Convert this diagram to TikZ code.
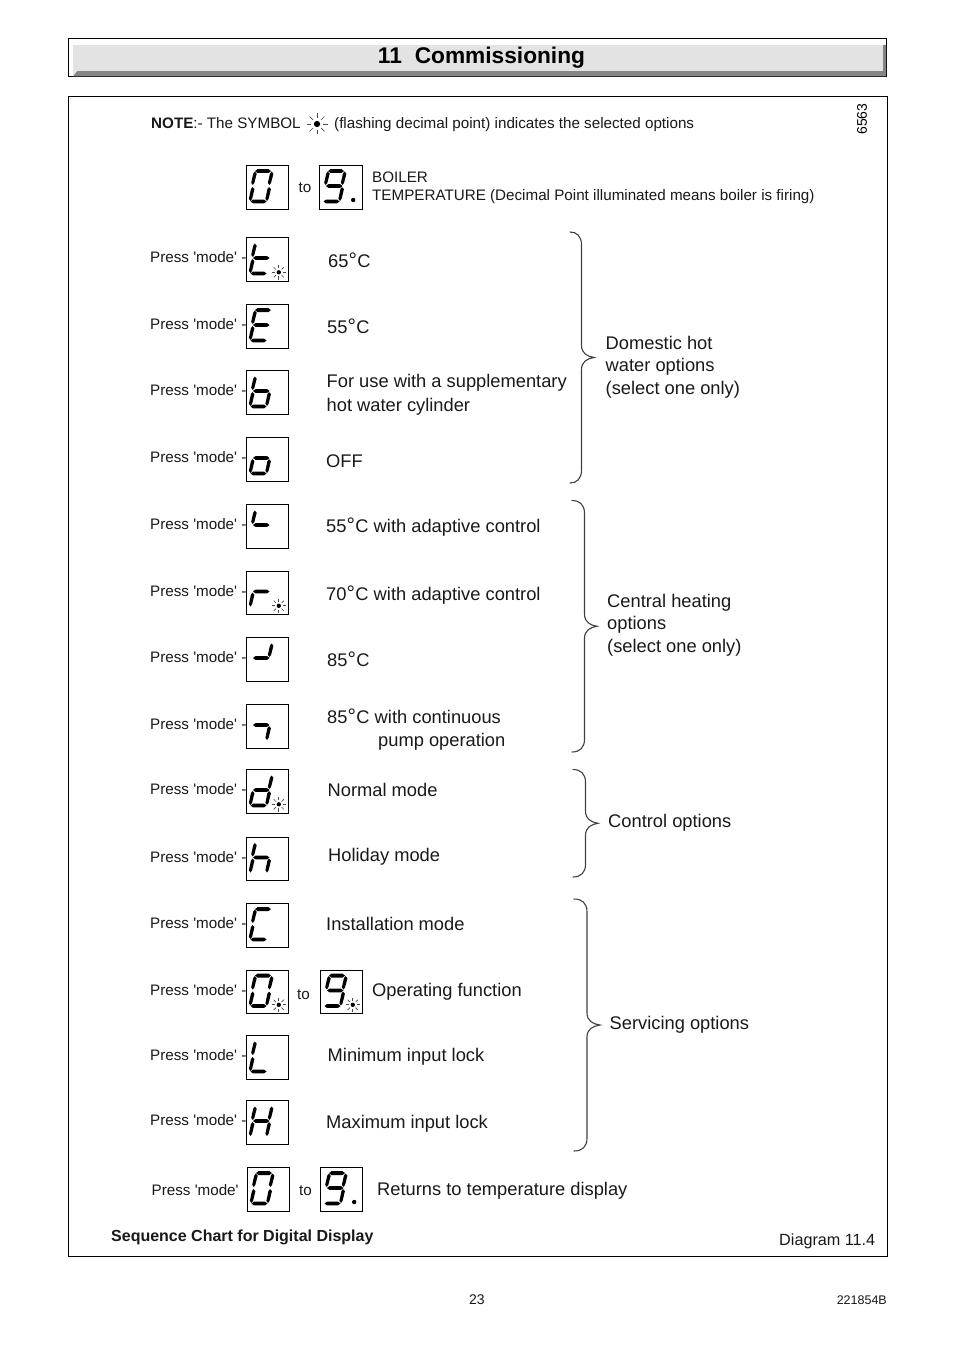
\documentclass[tikz,border=0pt]{standalone}
\usepackage{fontspec}
\setmainfont{Liberation Sans}[Ligatures=TeXOff]
\newcommand\fsz[1]{\fontsize{#1}{#1}\selectfont}
\newcommand\dgr{{\fsz{21}°}\kern0.5pt}
\tikzset{
  frame/.style={draw=black,line width=1pt,fill=white},
  lcd/.style={draw=black,line width=1pt,anchor=north west,inner sep=0pt,outer sep=0pt,minimum width=41.5pt,minimum height=43.5pt},
  sm/.style={anchor=base west,inner sep=0pt,text=black!90,font=\fsz{15.2}},
  big/.style={anchor=base west,inner sep=0pt,text=black!90,font=\fsz{18.3},align=left},
  bracepath/.style={draw=black!75,line width=1.1pt,line cap=round},
  ray/.style={line width=0.7pt,black!70},
}
% horizontal and slanted display bars
\newcommand\hseg[3]{\fill (#1,#3)--(#1+2.5,#3-1.9)--(#2-2.5,#3-1.9)--(#2,#3)--(#2-2.5,#3+1.9)--(#1+2.5,#3+1.9)--cycle;}
\newcommand\vseg[4]{\fill (#1,#2)--(#1+1.9,#2+2.2)--(#3+1.6,#4-2.2)--(#3,#4)--(#3-1.6,#4-2.2)--(#1-1.6,#2+2.2)--cycle;}
\newcommand\sA{\hseg{8.5}{24.5}{5.6}}
\newcommand\sB{\vseg{25}{6}{23}{19.5}}
\newcommand\sC{\vseg{22.5}{21.5}{20.5}{35.5}}
\newcommand\sD{\hseg{4}{20}{36}}
\newcommand\sE{\vseg{6}{21.5}{4}{35.5}}
\newcommand\sF{\vseg{8.3}{6}{6.3}{19.5}}
\newcommand\sG{\hseg{6.5}{23}{20.5}}
\newcommand\lcdglyph[3]{\begin{scope}[shift={(#1,#2)}]#3\end{scope}}
\newcommand\decdot[2]{\fill (#1+33.7,#2+34.5) circle (2.2);}
\newcommand\sunmark[3]{\begin{scope}[shift={(#1,#2)}]
  \fill (0,0) circle (0.3*#3);
  \foreach \a in {0,45,...,315} \draw[ray] (\a:0.55*#3) -- (\a:#3);
\end{scope}}
\newcommand\lcdsun[2]{\sunmark{#1+32.3}{#2+34.8}{7.2}}
\begin{document}
\begin{tikzpicture}[x=1pt,y=-1pt]
\useasboundingbox (0,0) rectangle (954,1351);
\fill[white] (0,0) rectangle (954,1351);
% title
\draw[frame] (68.5,38.5) rectangle (886.5,77);
\fill[black!48] (73,76.3)--(77,71)--(883,71)--(883,45)--(886,45)--(886,76.3)--cycle;
\fill[black!11] (73,45) rectangle (883,71);
\fill[black!11] (73,71)--(77,71)--(73,76)--cycle;
\node[anchor=base,inner sep=0pt,font=\bfseries\fsz{22.7}] (title) at (481.5,63.5) {11\kern6.5pt\ Commissioning};
% frame
\draw[frame] (68.5,97) rectangle (887.5,1256.5);
\node[sm] (note) at (151,128.7) {\textbf{NOTE}:- The SYMBOL};
\sunmark{317}{124}{10.5}
\node[sm] (notetwo) at (334,128.7) {(flashing decimal point) indicates the selected options};
\node[anchor=center,inner sep=0pt,rotate=90,font=\fsz{14}] (code) at (862,119) {6563};
% first row
\node[lcd] (h0) at (246.5,165.5) {};
\lcdglyph{246.5}{165.5}{\sA\sB\sC\sD\sE\sF}
\node[sm] (hto) at (298.5,192.5) {to};
\node[lcd,minimum width=42.5pt] (h9) at (319.5,165.5) {};
\lcdglyph{319.5}{165.5}{\sA\sB\sC\sD\sF\sG}
\decdot{319.5}{165.5}
\node[sm] (boil) at (372,182.7) {BOILER};
\node[sm] (temp) at (372,200.7) {TEMPERATURE (Decimal Point illuminated means boiler is firing)};
% rows
\newcommand\pressrow[5]{%
  \node[sm] (p#1) at (150,#3+25.2) {Press 'mode' -};
  \node[lcd] (#1) at (246.5,#3) {};
  \lcdglyph{246.5}{#3}{#4}
  \ifx\relax#5\relax\else\lcdsun{246.5}{#3}\fi
  \node[big] (t#1) at #2;}
\pressrow{a}{(328,267) {65\dgr C}}{237.5}{\sF\sE\sG\sD}{x}
\pressrow{b}{(327,333) {55\dgr C}}{304.5}{\sA\sF\sE\sG\sD}{}
\pressrow{c}{(326.5,411) {For use with a supplementary\\[5pt]hot water cylinder}}{370.5}{\sF\sE\sG\sD\sC}{}
\pressrow{d}{(326,467) {OFF}}{437.5}{\sG\sE\sD\sC}{}
\pressrow{e}{(326,532) {55\dgr C with adaptive control}}{504.5}{\sF\sG}{}
\pressrow{f}{(326,600) {70\dgr C with adaptive control}}{571}{\sG\sE}{x}
\pressrow{g}{(327,666) {85\dgr C}}{637.5}{\sB\sG}{}
\pressrow{i}{(327,746.5) {85\dgr C with continuous\\[4.3pt]\hspace*{51pt}pump operation}}{704.5}{\sG\sC}{}
\pressrow{j}{(327.5,796) {Normal mode}}{769.5}{\sB\sC\sD\sE\sG}{x}
\pressrow{k}{(328,861) {Holiday mode}}{837}{\sF\sE\sG\sC}{}
\pressrow{m}{(326,930) {Installation mode}}{903.5}{\sA\sF\sE\sD}{}
\pressrow{n}{(372,996) {Operating function}}{970}{\sA\sB\sC\sD\sE\sF}{x}
\node[sm] (nto) at (297,999.5) {to};
\node[lcd,minimum width=41.5pt] (n9) at (320.5,970) {};
\lcdglyph{320.5}{970}{\sA\sB\sC\sD\sF\sG}
\lcdsun{320.5}{970}
\pressrow{q}{(327.5,1061) {Minimum input lock}}{1035.5}{\sF\sE\sD}{}
\pressrow{r}{(326,1128) {Maximum input lock}}{1100.5}{\sF\sE\sB\sC\sG}{}
% last row
\node[sm] (plast) at (151.5,1195.5) {Press 'mode'};
\node[lcd] (l0) at (247.5,1167.5) {};
\lcdglyph{247.5}{1167.5}{\sA\sB\sC\sD\sE\sF}
\node[sm] (lto) at (299,1195.5) {to};
\node[lcd] (l9) at (320.5,1167.5) {};
\lcdglyph{320.5}{1167.5}{\sA\sB\sC\sD\sF\sG}
\decdot{320.5}{1167.5}
\node[big] (tl) at (377,1195) {Returns to temperature display};
% braces
\newcommand\bracemark[5]{% x-end, x-bar, x-tip, y-top, y-bottom
  \pgfmathsetmacro\ym{(#4+#5)/2}
  \draw[bracepath] (#1,#4) .. controls (#2-5,#4) and (#2,#4+4) .. (#2,#4+13)
    -- (#2,\ym-12) .. controls (#2,\ym-4) and (#2+6,\ym-1) .. (#3,\ym)
    .. controls (#2+6,\ym+1) and (#2,\ym+4) .. (#2,\ym+12)
    -- (#2,#5-13) .. controls (#2,#5-4) and (#2-5,#5) .. (#1,#5);}
\bracemark{570}{581.5}{594}{232}{483}
\bracemark{572}{584.5}{597}{500.5}{752}
\bracemark{573}{585.5}{598}{769.5}{877}
\bracemark{574}{587}{600}{899}{1151}
\node[big] (dh) at (605.5,394.5) {Domestic hot\\[4.3pt]water options\\[4.3pt](select one only)};
\node[big] (ch) at (607,652.5) {Central heating\\[4.3pt]options\\[4.3pt](select one only)};
\node[big] (co) at (608,827) {Control options};
\node[big] (so) at (609.5,1029) {Servicing options};
% footer
\node[sm,font=\bfseries\fsz{16}] (seq) at (111,1241.5) {Sequence Chart for Digital Display};
\node[sm,font=\fsz{16.2}] (diag) at (779,1245) {Diagram 11.4};
\node[sm,font=\fsz{14}] (page) at (469,1304) {23};
\node[anchor=base east,inner sep=0pt,text=black!90,font=\fsz{12.5}] (ref) at (887,1304) {221854B};
\end{tikzpicture}
\end{document}
